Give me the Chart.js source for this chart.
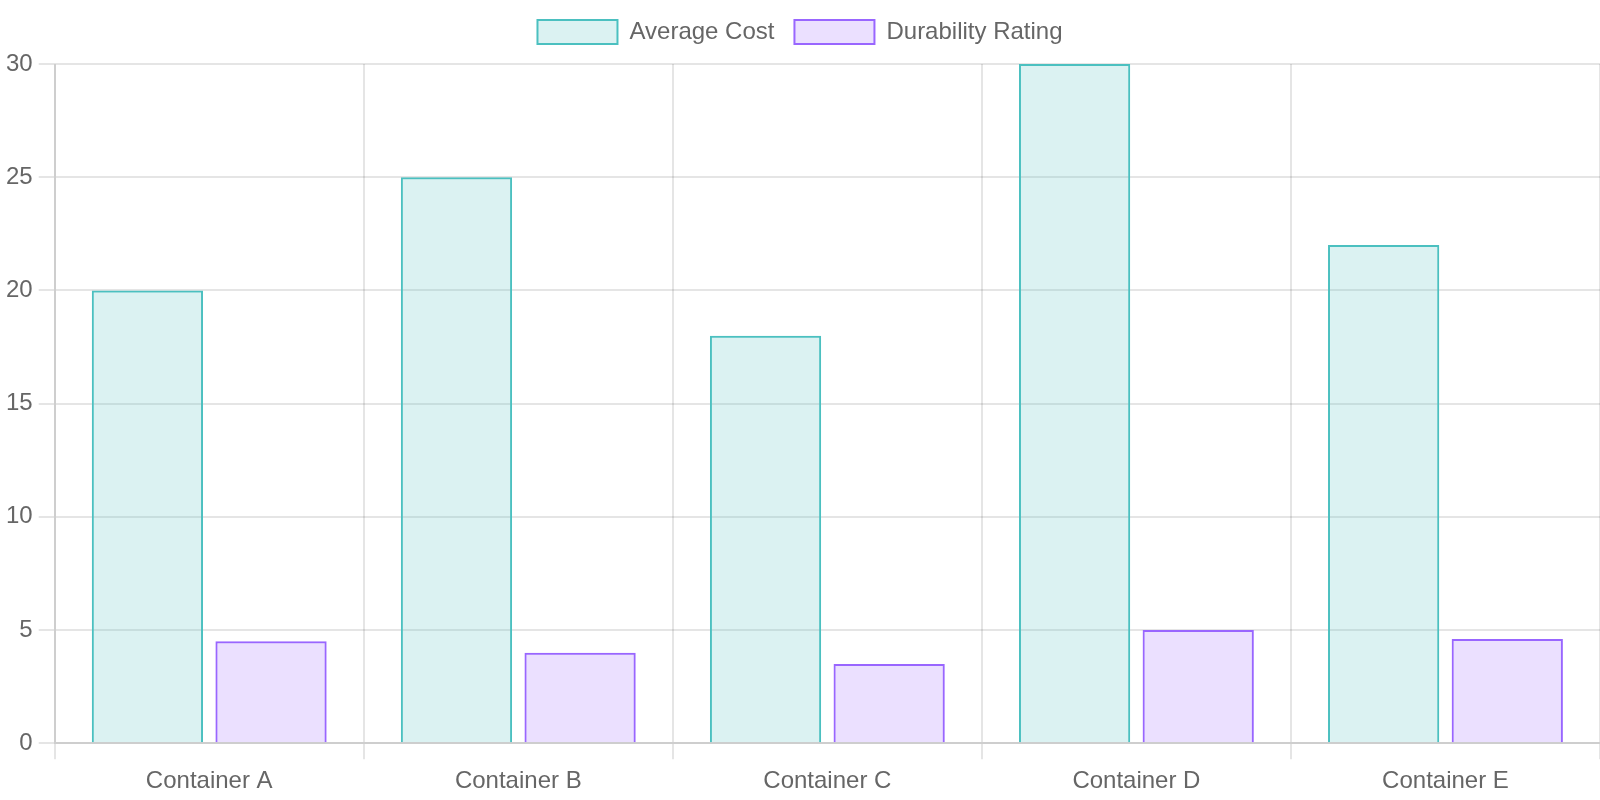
<!DOCTYPE html>
<html>
<head>
<meta charset="utf-8">
<script src="https://cdn.jsdelivr.net/npm/chart.js@4"></script>
<style>
  html, body { margin: 0; padding: 0; background: #fff; }
  #wrap { width: 1600px; height: 800px; }
</style>
</head>
<body>
<div id="wrap"><canvas id="chart"></canvas></div>
<script>
    // Container comparison data
    const categories = ["Container A", "Container B", "Container C", "Container D", "Container E"];
    const averageCost = [20, 25, 18, 30, 22];
    const durabilityRating = [4.5, 4, 3.5, 5, 4.6];

    Chart.defaults.font.family = "'Liberation Sans', Arial, sans-serif";
    Chart.defaults.font.size = 24;
    Chart.defaults.color = "#666";

    // Push the plot area a little further below the legend
    const legendGap = {
        id: "legendGap",
        beforeInit(chart) {
            const origFit = chart.legend.fit;
            chart.legend.fit = function() {
                origFit.bind(chart.legend)();
                this.height += 10;
            };
        }
    };

    const ctx = document.getElementById("chart").getContext("2d");
    new Chart(ctx, {
        type: "bar",
        data: {
            labels: categories,
            datasets: [{
                label: "Average Cost",
                data: averageCost,
                backgroundColor: "rgba(75, 192, 192, 0.2)",
                borderColor: "rgba(75, 192, 192, 1)",
                borderWidth: 2
            }, {
                label: "Durability Rating",
                data: durabilityRating,
                backgroundColor: "rgba(153, 102, 255, 0.2)",
                borderColor: "rgba(153, 102, 255, 1)",
                borderWidth: 2
            }]
        },
        plugins: [legendGap],
        options: {
            responsive: true,
            maintainAspectRatio: false,
            animation: false,
            layout: { padding: { bottom: -4 } },
            plugins: {
                legend: {
                    labels: { boxWidth: 80, boxHeight: 24, padding: 20 }
                },
                tooltip: { enabled: false }
            },
            scales: {
                x: {
                    grid: { lineWidth: 2, tickLength: 16 },
                    border: { width: 2 },
                    ticks: { padding: 8 }
                },
                y: {
                    beginAtZero: true,
                    max: 30,
                    grid: { lineWidth: 2, tickLength: 16 },
                    border: { width: 2 },
                    ticks: { padding: 6, stepSize: 5 }
                }
            }
        }
    });
</script>
</body>
</html>
